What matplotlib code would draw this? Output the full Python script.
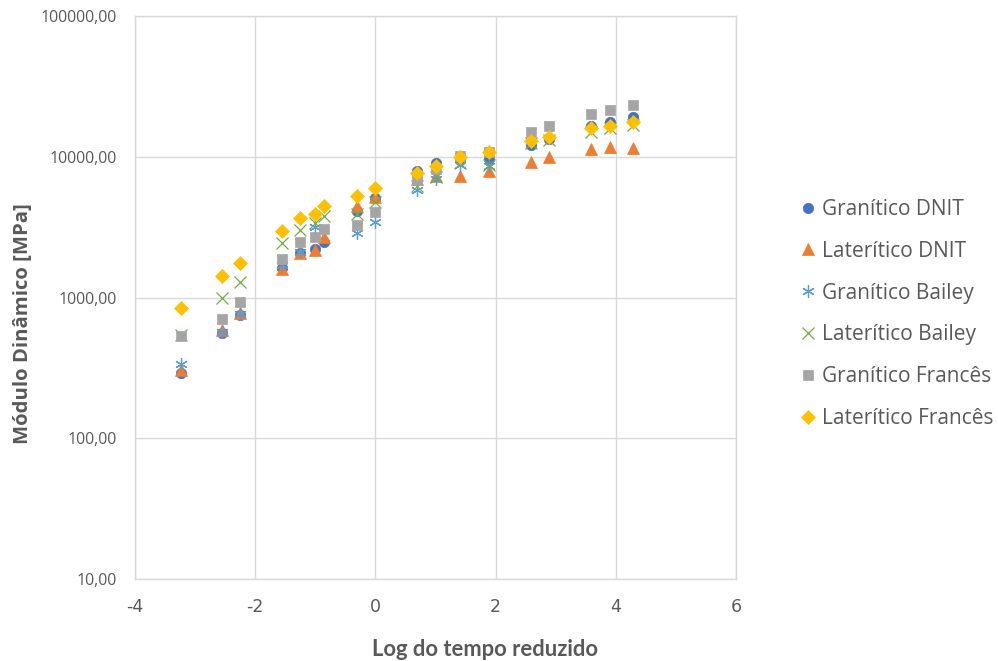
import matplotlib
matplotlib.use('Agg')
import matplotlib.pyplot as plt
import numpy as np

# log do tempo reduzido (shared by every series)
log_t = [-3.24, -2.55, -2.25, -1.55, -1.25, -1.01, -0.85, -0.31, 0.0,
         0.69, 1.00, 1.40, 1.89, 2.59, 2.89, 3.59, 3.90, 4.29]

# modulo dinamico [MPa], nan where no point is shown
granitico_dnit = [290, 558, 745, 1620, 2060, 2200, 2460, 4140, 5100,
                  7870, 9050, 9530, 9600, 12170, 13450, 16650, 17700, 19200]
lateritico_dnit = [303, 583, 778, 1600, 2080, 2180, 2700, 4450, 5150,
                   7000, 7250, 7250, 7900, 9170, 9900, 11400, 11800, 11600]
granitico_bailey = [335, 565, 760, 1700, 2100, 3170, np.nan, 2850, 3420,
                    5830, 7000, 8770, 8600, np.nan, np.nan, np.nan, np.nan, np.nan]
lateritico_bailey = [540, 990, 1285, 2450, 3020, 3400, 3790, 3950, 4800,
                     6150, 7200, 9000, 8800, 12500, 13100, 15100, 16000, 16700]
granitico_frances = [529, 706, 922, 1870, 2480, 2700, 3080, 3300, 4080,
                     6870, 8250, 10200, 10850, 14950, 16650, 20150, 21400, 23500]
lateritico_frances = [839, 1425, 1770, 2960, 3660, 3890, 4490, 5250, 6020,
                      7650, 8600, 9950, 10750, 12970, 13750, 15900, 16650, 17550]

y_ticks = [10, 100, 1000, 10000, 100000]
y_tick_labels = ['10,00', '100,00', '1000,00', '10000,00', '100000,00']
x_ticks = [-4, -2, 0, 2, 4, 6]

txt_color = '#595959'
grid_color = '#D9D9D9'

fig = plt.figure(figsize=(9.98, 6.61), dpi=100)
ax = fig.add_axes([135 / 998, 1 - 579 / 661, 601 / 998, 563 / 661])

# series: (values, label, marker, size, colour, filled)
series = [
    (granitico_dnit, 'Granítico DNIT', 'o', 7.5, '#4472C4', True),
    (lateritico_dnit, 'Laterítico DNIT', '^', 8.5, '#ED7D31', True),
    (granitico_bailey, 'Granítico Bailey', (6, 2, 0), 9, '#5B9BD5', False),
    (lateritico_bailey, 'Laterítico Bailey', 'x', 8, '#70AD47', False),
    (granitico_frances, 'Granítico Francês', 's', 7.5, '#A5A5A5', True),
    (lateritico_frances, 'Laterítico Francês', 'D', 7, '#FFC000', True),
]

for vals, label, mk, ms, col, filled in series:
    if filled:
        ax.plot(log_t, vals, linestyle='none', marker=mk, markersize=ms,
                color=col, markeredgecolor=col, markeredgewidth=0.5, label=label)
    else:
        ax.plot(log_t, vals, linestyle='none', marker=mk, markersize=ms,
                color=col, markeredgewidth=0.9, label=label)

ax.set_yscale('log')
ax.set_ylim(10, 100000)
ax.set_xlim(-4, 6)
ax.set_yticks(y_ticks)
ax.set_yticklabels(y_tick_labels)
ax.yaxis.set_minor_locator(matplotlib.ticker.NullLocator())
ax.set_xticks(x_ticks)
ax.set_xticklabels([str(v) for v in x_ticks])

ax.grid(True, color=grid_color, linewidth=1.0)
ax.set_axisbelow(True)
for sp in ax.spines.values():
    sp.set_color(grid_color)
    sp.set_linewidth(1.0)

ax.tick_params(axis='both', length=0, colors=txt_color)
ax.tick_params(axis='y', pad=13)
ax.tick_params(axis='x', pad=14)
for lab in ax.get_yticklabels():
    lab.set_fontfamily(['Open Sans', 'DejaVu Sans'])
    lab.set_fontsize(11.4)
for lab in ax.get_xticklabels():
    lab.set_fontfamily(['Liberation Sans Narrow', 'DejaVu Sans'])
    lab.set_fontsize(12.5)

fig.text(485 / 998, 1 - 650 / 661, 'Log do tempo reduzido', ha='center', va='center',
         fontsize=15.8, fontweight='bold', color=txt_color, family=['Lato', 'DejaVu Sans'])
fig.text(23 / 998, 1 - 324 / 661, 'Módulo Dinâmico [MPa]', ha='center', va='center',
         rotation=90, fontsize=14.6, fontweight='bold', color=txt_color,
         family=['Open Sans', 'DejaVu Sans'])

leg = ax.legend(loc='center left', bbox_to_anchor=(800 / 998, 1 - 314 / 661),
                bbox_transform=fig.transFigure, frameon=False, numpoints=1,
                handlelength=0.8, handletextpad=0.25, labelspacing=1.0,
                borderpad=0, borderaxespad=0,
                prop={'family': ['Open Sans', 'DejaVu Sans'], 'size': 15})
for t in leg.get_texts():
    t.set_color(txt_color)

fig.savefig('out.png', dpi=100)
